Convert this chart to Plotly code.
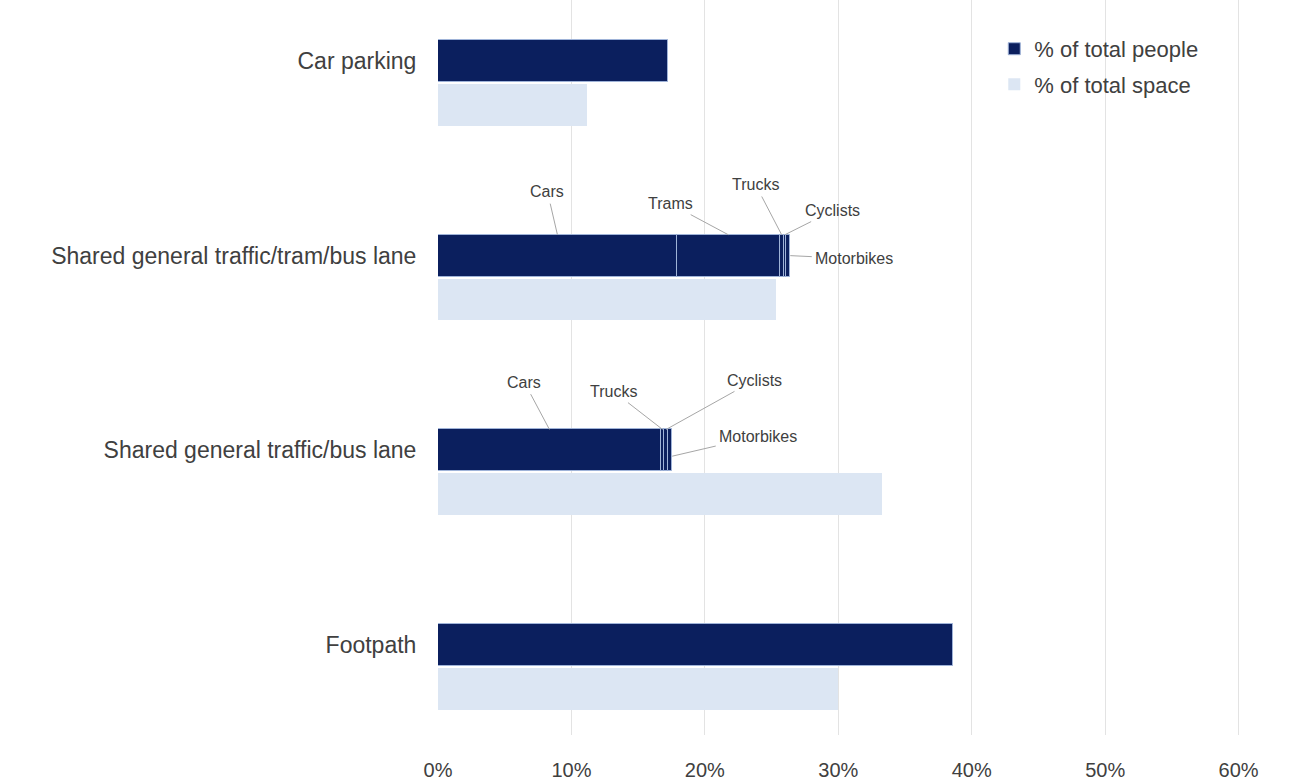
import plotly.graph_objects as go

# Road space categories (top to bottom)
categories = [
    "Car parking",
    "Shared general traffic/tram/bus lane",
    "Shared general traffic/bus lane",
    "Footpath",
]

# % of total people, split by mode within each category
people_segments = [
    [("", 17.2)],
    [("Cars", 17.9), ("Trams", 7.7), ("Trucks", 0.3), ("Cyclists", 0.2), ("Motorbikes", 0.3)],
    [("Cars", 16.7), ("Trucks", 0.25), ("Cyclists", 0.3), ("Motorbikes", 0.3)],
    [("", 38.6)],
]

# % of total space per category
space_values = [11.2, 25.3, 33.3, 30.0]

x_ticks = [0, 10, 20, 30, 40, 50, 60]

DARK = "#0b1f5e"
LIGHT = "#dce6f3"
TEXT = "#404040"
FONT = "Liberation Sans, Arial"
BAR_W = 0.215
OFFSET = 0.225

fig = go.Figure()

# Dark stacked bars: one bar piece per segment, stacked via base
px_y, px_x, px_base = [], [], []
for i, segs in enumerate(people_segments):
    start = 0.0
    for _, val in segs:
        px_y.append(i)
        px_x.append(val)
        px_base.append(start)
        start += val

fig.add_trace(go.Bar(
    name="% of total people",
    legendgroup="people",
    orientation="h",
    y=px_y, x=px_x, base=px_base,
    width=BAR_W,
    marker=dict(color=DARK, line=dict(color="#9fb3d8", width=1)),
    hoverinfo="skip",
))

fig.add_trace(go.Bar(
    name="% of total space",
    legendgroup="space",
    orientation="h",
    y=[i + OFFSET for i in range(len(categories))],
    x=space_values,
    width=BAR_W,
    marker=dict(color=LIGHT, line=dict(width=0)),
    hoverinfo="skip",
))

# Leader-line labels for the mode segments (pixel offsets of label from its segment)
label_offsets = {
    1: {"Cars": (-10, -43), "Trams": (-58, -31), "Trucks": (-26, -50),
        "Cyclists": (48, -24), "Motorbikes": (64, 3)},
    2: {"Cars": (-25, -47), "Trucks": (-49, -38), "Cyclists": (88, -49),
        "Motorbikes": (86, -20)},
}

for i, offsets in label_offsets.items():
    start = 0.0
    for name, val in people_segments[i]:
        mid = start + val / 2
        ax, ay = offsets[name]
        if name == "Motorbikes":
            px_point, py_point = start + val, i + (0.0 if i == 1 else 0.03)
        else:
            px_point, py_point = mid, i - BAR_W / 2
        fig.add_annotation(
            x=px_point, y=py_point, xref="x", yref="y",
            ax=ax, ay=ay,
            text=name, showarrow=True, arrowhead=0, arrowwidth=1,
            arrowcolor="#a6a6a6", standoff=0, startstandoff=2,
            font=dict(size=16, color=TEXT, family=FONT),
        )
        start += val

fig.update_layout(
    width=1294, height=782,
    margin=dict(l=438, r=22, t=0, b=47),
    paper_bgcolor="white", plot_bgcolor="white",
    barmode="overlay",
    bargap=0,
    font=dict(family=FONT, color=TEXT),
    showlegend=True,
    legend=dict(
        x=0.667, y=0.962, xanchor="left", yanchor="top",
        font=dict(size=22, color=TEXT),
        itemwidth=30, tracegroupgap=4,
        bgcolor="rgba(0,0,0,0)",
    ),
    xaxis=dict(
        range=[0, 62.5],
        tickvals=x_ticks,
        ticktext=[f"{t}%" for t in x_ticks],
        showgrid=True, gridcolor="#e3e3e3", gridwidth=1,
        zeroline=False, showline=False,
        tickfont=dict(size=20, color=TEXT),
        ticks="outside", ticklen=17, tickcolor="rgba(0,0,0,0)",
        automargin=False,
    ),
    yaxis=dict(
        range=[3.462, -0.313],
        tickvals=list(range(len(categories))),
        ticktext=categories,
        showgrid=False, zeroline=False, showline=False,
        tickfont=dict(size=23, color=TEXT),
        ticks="outside", ticklen=16, tickcolor="rgba(0,0,0,0)",
        automargin=False,
    ),
)

fig.write_html("out.html")
